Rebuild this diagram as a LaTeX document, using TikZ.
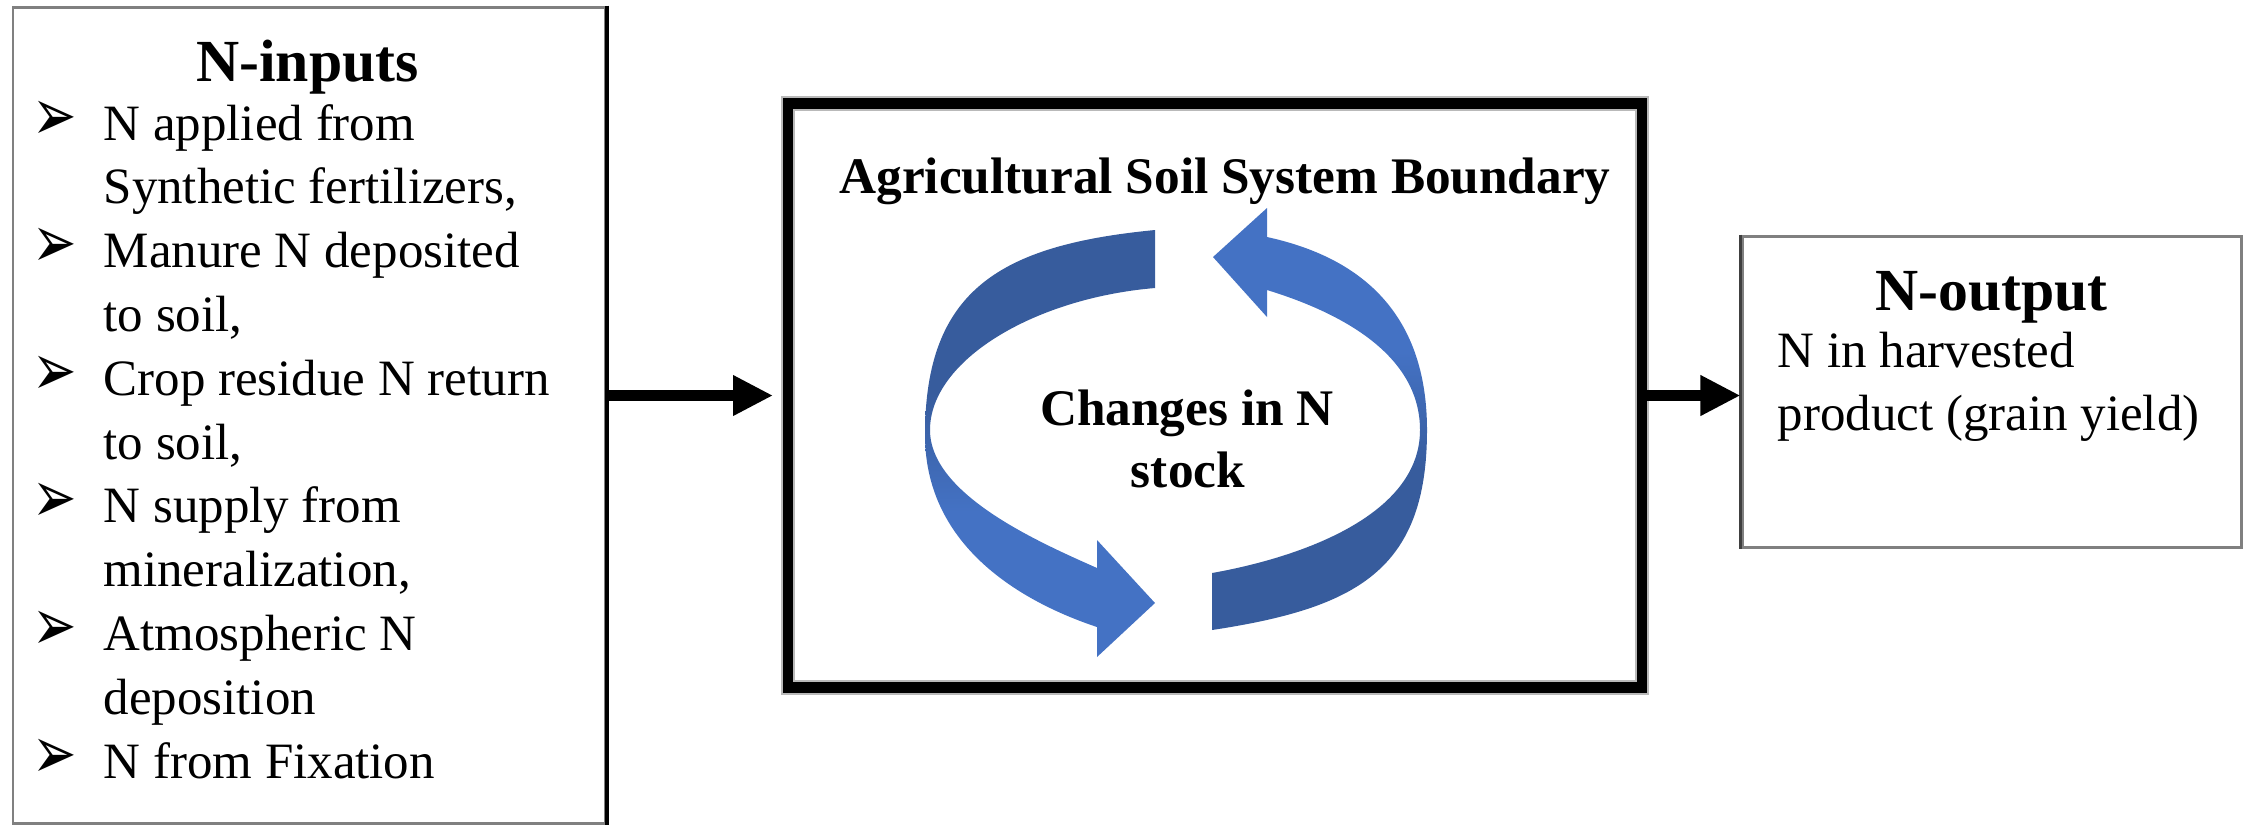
\documentclass[tikz,border=0pt]{standalone}
\usepackage{fontspec}
\setmainfont{Liberation Serif}
\newfontfamily\dingfont{DejaVu Sans}
\usetikzlibrary{arrows.meta}
\definecolor{ringdark}{RGB}{55,92,157}
\definecolor{ringlight}{RGB}{68,114,196}
\pgfdeclareverticalshading{ringshade}{100bp}{color(0bp)=(ringlight); color(42bp)=(ringlight); color(56bp)=(ringdark); color(100bp)=(ringdark)}
\newcommand{\blet}{\scalebox{0.72}[1]{➢}}
\tikzstyle{box}=[draw=gray,line width=0.85pt,inner sep=0pt]
\tikzstyle{txt}=[inner sep=0pt,anchor=base west,font=\fontsize{14.5}{18}\selectfont]
\tikzstyle{hd}=[inner sep=0pt,anchor=base,font=\bfseries\fontsize{17}{20}\selectfont]
\tikzstyle{midtxt}=[inner sep=0pt,anchor=base,font=\bfseries\fontsize{14.6}{18}\selectfont]
\tikzstyle{blt}=[inner sep=0pt,anchor=base west,font=\dingfont\fontsize{21}{24}\selectfont]
\tikzstyle{flow}=[line width=3.3pt,-{Triangle[length=11.4pt,width=10.8pt]}]

\begin{document}
\begin{tikzpicture}
\useasboundingbox (0,0) rectangle (22.48,-8.27);
% boxes
\node[box,minimum width=5.925cm,minimum height=8.16cm] (inputs) at (3.0925,-4.15) {};
\draw[line width=0.95pt] (inputs.north east) -- (inputs.south east);
\node[draw=black,line width=3.1pt,preaction={draw=gray!55,line width=4.2pt},inner sep=0pt,minimum width=8.54cm,minimum height=5.84cm] (soil) at (12.15,-3.955) {};
\node[box,minimum width=4.99cm,minimum height=3.11cm] (output) at (19.915,-3.915) {};
\draw[black!75,line width=0.85pt] (output.north west) -- (output.south west);
% connectors
\draw[flow,shorten >=2.7pt] (inputs.east |- soil.west) -- (soil.west);
\draw[flow] (soil.east) -- (soil.east -| output.west);
% N-inputs
\node[hd] (inhead) at (3.075,-0.81) {N-inputs};
\node[blt] (b1) at (0.32,-1.40) {\blet};
\node[txt] (l1) at (1.03,-1.40) {N applied from};
\node[txt] (l2) at (1.03,-2.038) {Synthetic fertilizers,};
\node[blt] (b2) at (0.32,-2.676) {\blet};
\node[txt] (l3) at (1.03,-2.676) {Manure N deposited};
\node[txt] (l4) at (1.03,-3.314) {to soil,};
\node[blt] (b3) at (0.32,-3.952) {\blet};
\node[txt] (l5) at (1.03,-3.952) {Crop residue N return};
\node[txt] (l6) at (1.03,-4.59) {to soil,};
\node[blt] (b4) at (0.32,-5.228) {\blet};
\node[txt] (l7) at (1.03,-5.228) {N supply from};
\node[txt] (l8) at (1.03,-5.866) {mineralization,};
\node[blt] (b5) at (0.32,-6.504) {\blet};
\node[txt] (l9) at (1.03,-6.504) {Atmospheric N};
\node[txt] (l10) at (1.03,-7.142) {deposition};
\node[blt] (b6) at (0.32,-7.78) {\blet};
\node[txt] (l11) at (1.03,-7.78) {N from Fixation};
% soil system
\node[midtxt] (title) at (12.25,-1.93) {Agricultural Soil System Boundary};
\shade[shading=ringshade] (11.55,-2.30) .. controls (10.00,-2.45) and (9.25,-2.90) .. (9.25,-4.35)
  .. controls (9.25,-5.55) and (10.37,-6.07) .. (10.97,-6.27)
  -- (10.97,-6.57) -- (11.55,-6.03) -- (10.97,-5.40) -- (10.97,-5.68)
  .. controls (10.41,-5.43) and (9.30,-4.95) .. (9.30,-4.30)
  .. controls (9.30,-3.60) and (10.35,-2.98) .. (11.55,-2.88) -- cycle;
\shade[shading=ringshade,shading angle=180] (12.12,-6.30) .. controls (13.57,-6.08) and (14.27,-5.70) .. (14.27,-4.30)
  .. controls (14.27,-3.00) and (13.45,-2.54) .. (12.67,-2.37)
  -- (12.67,-2.08) -- (12.13,-2.57) -- (12.67,-3.17) -- (12.67,-2.90)
  .. controls (13.42,-3.13) and (14.20,-3.55) .. (14.20,-4.30)
  .. controls (14.20,-5.15) and (13.02,-5.57) .. (12.12,-5.73) -- cycle;
\node[midtxt] (chg1) at (11.87,-4.25) {Changes in N};
\node[midtxt] (chg2) at (11.88,-4.87) {stock};
% N-output
\node[hd] (outhead) at (19.915,-3.10) {N-output};
\node[txt] (o1) at (17.77,-3.67) {N in harvested};
\node[txt] (o2) at (17.77,-4.30) {product (grain yield)};
\end{tikzpicture}
\end{document}
